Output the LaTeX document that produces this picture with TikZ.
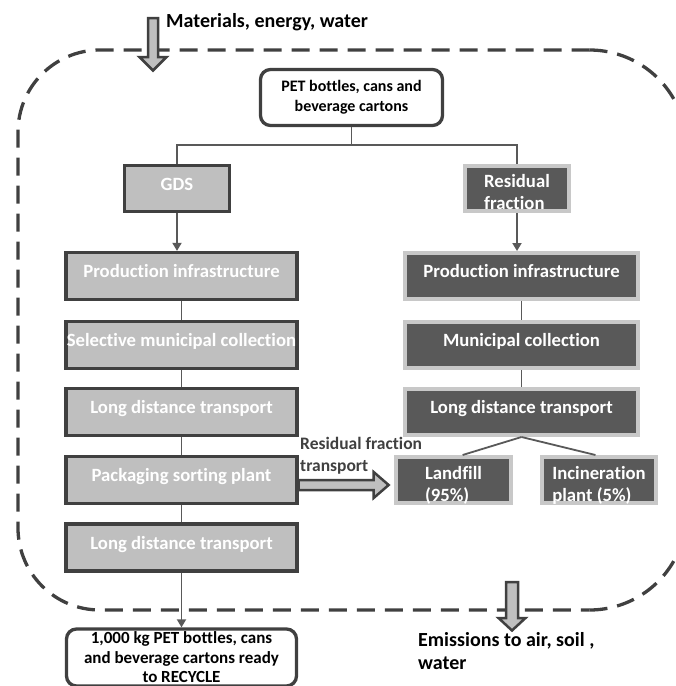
\documentclass[tikz,border=0pt]{standalone}
\usepackage{fontspec}
\setmainfont{Carlito}[Ligatures=NoCommon]
\usetikzlibrary{calc,arrows.meta}

\definecolor{darkline}{HTML}{404040}
\definecolor{lightbox}{HTML}{BFBFBF}
\definecolor{darkbox}{HTML}{595959}
\definecolor{paleline}{HTML}{C8C8C8}

% two lines, set a bit low in the box
\newcommand{\lowrows}[1]{\raisebox{-10pt}[0pt][0pt]{\begin{tabular}{@{}l@{}}#1\end{tabular}}}

\begin{document}
\begin{tikzpicture}[x=1pt,y=-1pt]
\tikzstyle{gdsbox} = [draw=darkline,fill=lightbox,line width=3.3pt,text=white,inner sep=0pt,
  font=\fontsize{18.7}{22}\selectfont\bfseries,minimum width=231pt,minimum height=47pt]
\tikzstyle{resbox} = [draw=paleline,fill=darkbox,line width=4pt,text=white,inner sep=0pt,
  font=\fontsize{18.7}{22}\selectfont\bfseries,minimum width=233pt,minimum height=46pt]
\tikzstyle{onerow} = [text height=12pt,text depth=9pt]
\tikzstyle{endbox} = [draw=darkline,fill=white,line width=3.3pt,rounded corners=10pt,inner sep=0pt,align=center]
\tikzstyle{conn} = [draw=darkbox,line width=1.8pt]
\tikzstyle{tip} = [-{Triangle[length=8pt,width=9pt]}]
\tikzstyle{blockarrow} = [draw=darkline,fill=lightbox,line width=2.5pt,line join=miter]
\tikzstyle{boundary} = [darkline,line width=3.3pt,dash pattern=on 18pt off 10pt]
\tikzstyle{ann} = [inner sep=0pt,align=left,font=\fontsize{20}{23}\selectfont\bfseries]

\useasboundingbox (0,0) rectangle (676,686);
\clip (0,0) rectangle (676,686);

%%%%%% system boundary
\draw[boundary,rounded corners=82pt] (589.5,50) -- (18,50) -- (18,610) -- (589.5,610);
\draw[boundary] (589.5,50) arc[start angle=-90,end angle=-20,radius=97];
\draw[boundary] (589.5,610) arc[start angle=90,end angle=20,radius=97];

%%%%%% start
\node[endbox,minimum width=182pt,minimum height=56pt,font=\fontsize{16}{20}\selectfont\bfseries] (source) at (351.5,97.5) {PET bottles, cans and\\beverage cartons};
\coordinate (split) at (351.5,145);

%%%%%% GDS column
\node[gdsbox,onerow,minimum width=105pt,minimum height=46pt] (gds) at (177,188.5) {GDS};
\node[gdsbox,onerow] (lprod) at (181.5,276) {Production infrastructure};
\node[gdsbox,onerow] (lsel) at (181.5,345) {Selective municipal collection};
\node[gdsbox,onerow] (lldtA) at (181.5,412) {Long distance transport};
\node[gdsbox,onerow] (lpack) at (181.5,480) {Packaging sorting plant};
\node[gdsbox,onerow] (lldtB) at (181.5,547.5) {Long distance transport};

%%%%%% residual column
\node[resbox,minimum width=104pt,minimum height=45pt] (resid) at (517,188.5) {\lowrows{Residual\\fraction}};
\node[resbox,onerow] (rprod) at (521.5,276) {Production infrastructure};
\node[resbox,onerow] (rmun) at (521.5,345) {Municipal collection};
\node[resbox,onerow] (rldt) at (521.5,412) {Long distance transport};
\node[resbox,minimum width=115pt] (landfill) at (453.5,480) {\lowrows{Landfill\\(95\%)}};
\node[resbox,minimum width=114pt] (incin) at (599,480) {\lowrows{Incineration\\plant (5\%)}};

%%%%%% end
\node[endbox,minimum width=230pt,minimum height=57pt,font=\fontsize{17}{19.5}\selectfont\bfseries] (final) at (181.5,657.5) {1,000 kg PET bottles, cans\\and beverage cartons ready\\to RECYCLE};

%%%%%% Linhas
\draw[conn] (source.south) -- (split);
\draw[conn] (gds.north) |- (split) -| (resid.north);
\draw[conn,tip] (gds.south) -- (gds.south |- lprod.north);
\draw[conn] (lprod) -- (lsel);
\draw[conn] (lsel) -- (lldtA);
\draw[conn] (lldtA) -- (lpack);
\draw[conn] (lpack) -- (lldtB);
\draw[conn,tip] (lldtB.south) -- (final.north);
\draw[conn,tip] (resid.south) -- (resid.south |- rprod.north);
\draw[conn] (rprod) -- (rmun);
\draw[conn] (rmun) -- (rldt);
\draw[conn] (rldt.south) -- (landfill.70);
\draw[conn] (rldt.south) -- (incin.98);

%%%%%% inputs and outputs
\draw[blockarrow] (148,18) -- (158,18) -- (158,57) -- (166.5,57) -- (153,70.5) -- (139.5,57) -- (148,57) -- cycle;
\node[ann,anchor=west] (mewlabel) at (166,22) {Materials, energy, water};

\coordinate (ra) at ($(lpack.east)+(0,5)$);
\draw[blockarrow] (ra) ++(0,-5) -- ++(75,0) -- ++(0,-8) -- ++(15,13) -- ++(-15,13) -- ++(0,-8) -- ++(-75,0) -- cycle;
\node[ann,anchor=west,text=darkline,font=\fontsize{17.5}{22}\selectfont\bfseries] (rftlabel) at (300,456) {Residual fraction\\transport};

\draw[blockarrow] (506,582) -- (518,582) -- (518,618) -- (525.5,618) -- (512,630.5) -- (498.5,618) -- (506,618) -- cycle;
\node[ann,anchor=north west] (emlabel) at (418,632) {Emissions to air, soil ,\\water};
\end{tikzpicture}
\end{document}
